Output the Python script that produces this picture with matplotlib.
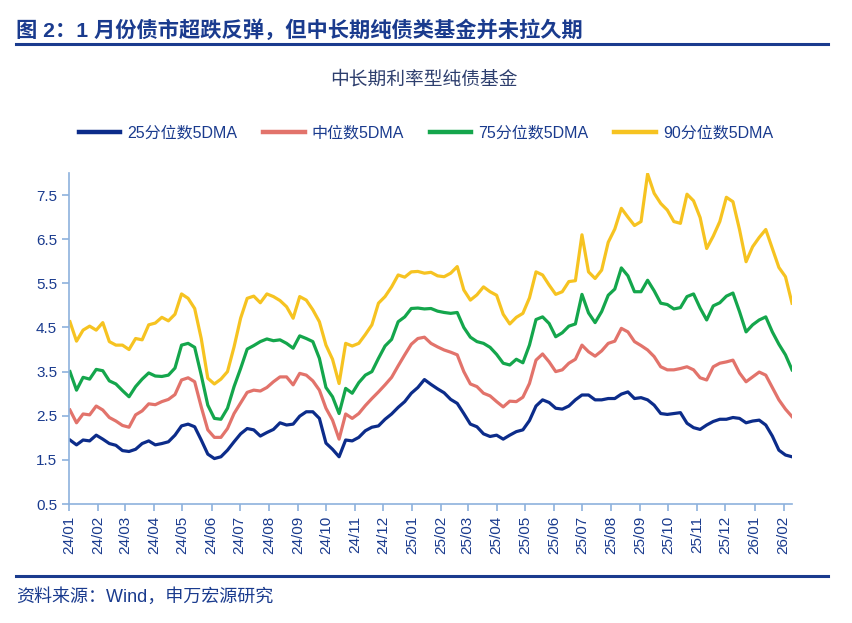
import matplotlib
matplotlib.use('Agg')
import matplotlib.pyplot as plt
import matplotlib.dates as mdates
from matplotlib.lines import Line2D
import pandas as pd

plt.rcParams['font.family'] = ['Liberation Sans', 'Noto Sans CJK SC']

# weekly points, 2024-01-02 .. 2026-02-10
dates = pd.date_range('2024-01-02', periods=111, freq='7D')

p25 = [1.95, 1.84, 1.95, 1.93, 2.06, 1.97, 1.87, 1.83, 1.71, 1.69, 1.74, 1.87, 1.93, 1.84, 1.87, 1.91, 2.06,
       2.27, 2.31, 2.25, 1.95, 1.63, 1.53, 1.57, 1.72, 1.91, 2.09, 2.21, 2.18, 2.04, 2.12, 2.19,
       2.34, 2.29, 2.31, 2.49, 2.59, 2.59, 2.44, 1.88, 1.74, 1.57, 1.95, 1.93, 2.01, 2.16, 2.24, 2.27,
       2.42, 2.54, 2.69, 2.82, 3.01, 3.14, 3.32, 3.21, 3.11, 3.02, 2.87, 2.78, 2.55, 2.31, 2.25, 2.09, 2.03,
       2.06, 1.97, 2.06, 2.14, 2.18, 2.39, 2.72, 2.86, 2.80, 2.67, 2.65, 2.72, 2.86, 2.97, 2.97, 2.86, 2.86,
       2.89, 2.89, 2.99, 3.04, 2.89, 2.91, 2.86, 2.74, 2.55, 2.53, 2.55, 2.57, 2.33, 2.23, 2.19,
       2.29, 2.37, 2.42, 2.42, 2.46, 2.44, 2.34, 2.38, 2.40, 2.29, 2.04, 1.72, 1.61, 1.57]

median = [2.63, 2.34, 2.54, 2.52, 2.72, 2.63, 2.46, 2.38, 2.28, 2.24, 2.52, 2.61, 2.77, 2.75, 2.82, 2.87, 2.98,
          3.31, 3.36, 3.27, 2.70, 2.18, 2.01, 2.01, 2.21, 2.55, 2.79, 3.03, 3.08, 3.06, 3.14, 3.27,
          3.38, 3.38, 3.20, 3.46, 3.42, 3.29, 3.08, 2.67, 2.40, 1.97, 2.54, 2.44, 2.55, 2.73, 2.89, 3.04,
          3.20, 3.37, 3.63, 3.88, 4.12, 4.25, 4.28, 4.14, 4.06, 3.99, 3.94, 3.88, 3.50, 3.22, 3.16, 3.01, 2.95,
          2.82, 2.70, 2.83, 2.82, 2.92, 3.23, 3.76, 3.90, 3.72, 3.50, 3.54, 3.69, 3.78, 4.10, 3.95, 3.85, 3.97,
          4.14, 4.19, 4.48, 4.40, 4.18, 4.09, 3.99, 3.84, 3.61, 3.54, 3.54, 3.57, 3.61, 3.54, 3.36,
          3.31, 3.61, 3.69, 3.72, 3.76, 3.47, 3.27, 3.38, 3.49, 3.42, 3.14, 2.86, 2.65, 2.48]

p75 = [3.50, 3.08, 3.37, 3.33, 3.55, 3.52, 3.29, 3.22, 3.07, 2.93, 3.16, 3.33, 3.47, 3.40, 3.39, 3.42, 3.58,
       4.10, 4.14, 4.05, 3.42, 2.74, 2.44, 2.42, 2.67, 3.16, 3.57, 4.01, 4.09, 4.18, 4.24, 4.20,
       4.22, 4.14, 4.03, 4.31, 4.25, 4.18, 3.80, 3.14, 2.93, 2.55, 3.12, 3.01, 3.25, 3.42, 3.50, 3.80,
       4.08, 4.23, 4.63, 4.74, 4.93, 4.94, 4.92, 4.93, 4.87, 4.84, 4.82, 4.84, 4.50, 4.28, 4.18, 4.14, 4.05,
       3.89, 3.69, 3.65, 3.78, 3.70, 4.10, 4.68, 4.74, 4.59, 4.29, 4.38, 4.53, 4.58, 5.25, 4.83, 4.61, 4.86,
       5.23, 5.37, 5.85, 5.67, 5.31, 5.31, 5.57, 5.33, 5.05, 5.02, 4.92, 4.95, 5.20, 5.26, 4.94,
       4.67, 4.99, 5.06, 5.21, 5.28, 4.86, 4.40, 4.56, 4.67, 4.74, 4.40, 4.12, 3.88, 3.54]

p90 = [4.63, 4.19, 4.44, 4.53, 4.44, 4.61, 4.18, 4.10, 4.10, 4.00, 4.25, 4.22, 4.56, 4.60, 4.73, 4.65, 4.80,
       5.26, 5.16, 4.93, 4.25, 3.35, 3.22, 3.33, 3.50, 4.06, 4.71, 5.16, 5.21, 5.06, 5.26, 5.20,
       5.11, 4.97, 4.71, 5.20, 5.12, 4.90, 4.63, 4.10, 3.78, 3.23, 4.14, 4.08, 4.14, 4.34, 4.56, 5.05,
       5.20, 5.42, 5.69, 5.64, 5.76, 5.77, 5.73, 5.75, 5.67, 5.65, 5.73, 5.88, 5.35, 5.12, 5.24, 5.42, 5.31,
       5.23, 4.80, 4.58, 4.73, 4.82, 5.17, 5.76, 5.69, 5.46, 5.25, 5.31, 5.54, 5.56, 6.60, 5.76, 5.61, 5.80,
       6.43, 6.73, 7.20, 7.00, 6.81, 6.90, 7.98, 7.54, 7.31, 7.16, 6.90, 6.86, 7.52, 7.37, 6.99,
       6.29, 6.57, 6.90, 7.45, 7.35, 6.72, 5.99, 6.33, 6.54, 6.72, 6.29, 5.86, 5.65, 5.05]

labels = ['25分位数5DMA', '中位数5DMA', '75分位数5DMA', '90分位数5DMA']
colors = ['#0c2c8a', '#e2736b', '#14a64c', '#f6c321']

navy = '#1a3b8e'
axis_blue = '#8db1dd'

fig = plt.figure(figsize=(8.52, 6.23), dpi=100)

# header and footer
fig.text(16 / 852, 0.952, '图 2：1 月份债市超跌反弹，但中长期纯债类基金并未拉久期',
         fontsize=15.3, fontweight='bold', color=navy, va='center', ha='left')
fig.add_artist(Line2D([16 / 852, 828 / 852], [0.929, 0.929], color=navy, lw=2.2,
                      transform=fig.transFigure))
fig.add_artist(Line2D([16 / 852, 828 / 852], [0.0755, 0.0755], color=navy, lw=2.2,
                      transform=fig.transFigure))
fig.text(16 / 852, 0.042, '资料来源：Wind，申万宏源研究', fontsize=13, color=navy,
         va='center', ha='left')
fig.text(0.498, 0.872, '中长期利率型纯债基金', fontsize=13.5, color='#2e3f6e',
         va='center', ha='center')

ax = fig.add_axes([0.081, 0.191, 0.8486, 0.5313])
series = [p25, median, p75, p90]
for vals, lab, col in zip(series, labels, colors):
    ax.plot(dates, vals, color=col, lw=2.3, label=lab)

ax.set_ylim(0.5, 8.0)
ax.set_yticks([0.5, 1.5, 2.5, 3.5, 4.5, 5.5, 6.5, 7.5])
ax.set_xlim(pd.Timestamp('2024-01-01'), pd.Timestamp('2026-02-10'))
months = pd.date_range('2024-01-01', '2026-02-01', freq='MS')
ax.set_xticks(months)
ax.xaxis.set_major_formatter(mdates.DateFormatter('%y/%m'))
plt.setp(ax.get_xticklabels(), rotation=90)

for s in ['top', 'right']:
    ax.spines[s].set_visible(False)
for s in ['left', 'bottom']:
    ax.spines[s].set_color(axis_blue)
    ax.spines[s].set_linewidth(1.2)
ax.tick_params(axis='both', colors=axis_blue, length=5, width=1.2, labelsize=11,
               labelcolor=navy)

leg = fig.legend(loc='center', bbox_to_anchor=(0.5, 0.7865), ncol=4, frameon=False,
                 fontsize=11.5, handlelength=2.6, columnspacing=1.6, handletextpad=0.45,
                 labelcolor=navy)
for h in leg.get_lines():
    h.set_linewidth(3.2)

fig.savefig('out.png', dpi=100)
